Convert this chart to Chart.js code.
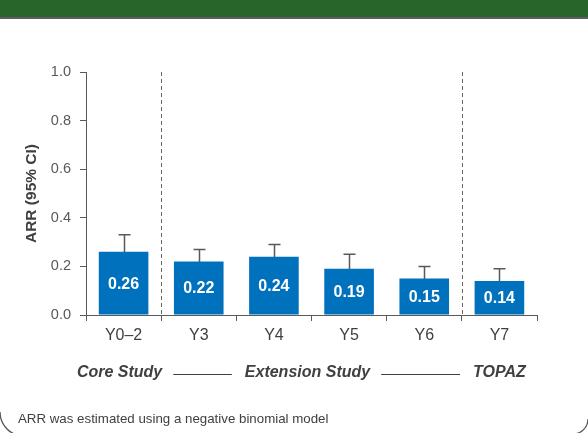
<!DOCTYPE html>
<html><head><meta charset="utf-8">
<script src="https://cdn.jsdelivr.net/npm/chart.js@4.4.1/dist/chart.umd.min.js"></script>
<style>
html,body{margin:0;padding:0;background:#fff;overflow:hidden}
#wrap{position:relative;width:588px;height:433px}
#banner{position:absolute;left:0;top:0;width:588px;height:17px;background:#27652a;border-bottom:2px solid #5e5e5e}
canvas{position:absolute;left:0;top:0}
</style></head>
<body><div id="wrap"><canvas id="c" width="588" height="433"></canvas><div id="banner"></div></div>
<script>
const categories = ['Y0\u20132', 'Y3', 'Y4', 'Y5', 'Y6', 'Y7'];
const arrValues = [0.26, 0.22, 0.24, 0.19, 0.15, 0.14];
const ciUpper = [0.33, 0.27, 0.29, 0.25, 0.20, 0.19];
const yTicks = [0.0, 0.2, 0.4, 0.6, 0.8, 1.0];
const yTitle = 'ARR (95% CI)';
const studyGroups = ['Core Study', 'Extension Study', 'TOPAZ'];
const groupFirst = [0, 1, 5];
const groupLast = [0, 4, 5];
const dividerAfter = [0, 4];
const footnote = 'ARR was estimated using a negative binomial model';

const FONT = "'Liberation Sans', Arial, Helvetica, sans-serif";
const GREY = '#595959';
const DARK = '#404040';

const extras = {
  id: 'extras',
  beforeDatasetsDraw(chart) {
    const ctx = chart.ctx, xs = chart.scales.x, ys = chart.scales.y, ca = chart.chartArea;
    ctx.save();
    ctx.strokeStyle = '#666';
    ctx.lineWidth = 1;
    ctx.setLineDash([4, 3]);
    dividerAfter.forEach(i => {
      const x = Math.round((xs.getPixelForValue(i) + xs.getPixelForValue(i + 1)) / 2) + 0.5;
      ctx.beginPath(); ctx.moveTo(x, ca.top); ctx.lineTo(x, ca.bottom); ctx.stroke();
    });
    ctx.setLineDash([]);
    const meta = chart.getDatasetMeta(0);
    ctx.strokeStyle = GREY;
    ctx.lineWidth = 1.5;
    meta.data.forEach((bar, i) => {
      const x = Math.round(bar.x) + 0.5;
      const yt = ys.getPixelForValue(ciUpper[i]);
      ctx.beginPath();
      ctx.moveTo(x, bar.y + 2); ctx.lineTo(x, yt);
      ctx.moveTo(x - 6, yt); ctx.lineTo(x + 6, yt);
      ctx.stroke();
    });
    ctx.restore();
  },
  afterDatasetsDraw(chart) {
    const ctx = chart.ctx, meta = chart.getDatasetMeta(0);
    ctx.save();
    ctx.fillStyle = '#fff';
    ctx.font = 'bold 16px ' + FONT;
    ctx.textAlign = 'center';
    ctx.textBaseline = 'middle';
    meta.data.forEach((bar, i) => {
      ctx.fillText(arrValues[i].toFixed(2), bar.x, (bar.y + bar.base) / 2 + 1);
    });
    ctx.restore();
  },
  afterDraw(chart) {
    const ctx = chart.ctx, xs = chart.scales.x, ca = chart.chartArea;
    ctx.save();
    const gy = ca.bottom + 58;
    ctx.font = 'italic bold 16px ' + FONT;
    ctx.fillStyle = DARK;
    ctx.textAlign = 'center';
    ctx.textBaseline = 'middle';
    const shift = [-4, -4, 0];
    const spans = studyGroups.map((g, k) => {
      const cx = (xs.getPixelForValue(groupFirst[k]) + xs.getPixelForValue(groupLast[k])) / 2 + shift[k];
      const w = ctx.measureText(g).width;
      ctx.fillText(g, cx, gy);
      return [cx - w / 2, cx + w / 2];
    });
    ctx.strokeStyle = DARK;
    ctx.lineWidth = 1;
    for (let k = 0; k < spans.length - 1; k++) {
      const a = spans[k][1] + 11, b = spans[k + 1][0] - 13;
      ctx.beginPath(); ctx.moveTo(a, gy + 1.5); ctx.lineTo(b, gy + 1.5); ctx.stroke();
    }
    ctx.font = '13.3px ' + FONT;
    ctx.textAlign = 'left';
    ctx.fillStyle = DARK;
    ctx.fillText(footnote, 18, 419);
    ctx.strokeStyle = '#555';
    ctx.lineWidth = 1.3;
    ctx.beginPath(); ctx.arc(24, 412, 24, Math.PI / 2, Math.PI); ctx.stroke();
    ctx.beginPath(); ctx.arc(573, 419, 15, 0, Math.PI / 2); ctx.stroke();
    ctx.restore();
  }
};

new Chart(document.getElementById('c'), {
  type: 'bar',
  data: {
    labels: categories,
    datasets: [{
      data: arrValues,
      backgroundColor: '#0071bd',
      borderWidth: 0,
      barPercentage: 0.66,
      categoryPercentage: 1.0
    }]
  },
  options: {
    responsive: false,
    animation: false,
    events: [],
    layout: { padding: { left: 0, right: 51, top: 72, bottom: 78 } },
    plugins: { legend: { display: false }, tooltip: { enabled: false } },
    scales: {
      x: {
        offset: true,
        grid: { display: true, offset: true, drawOnChartArea: false, tickLength: 6, color: GREY, lineWidth: 1 },
        border: { display: true, color: GREY, width: 1 },
        ticks: { color: DARK, font: { family: FONT, size: 16 }, padding: 5 },
        afterFit(s) { s.height = 40; }
      },
      y: {
        min: 0, max: 1,
        afterBuildTicks(s) { s.ticks = yTicks.map(v => ({ value: v })); },
        grid: { display: true, drawOnChartArea: false, tickLength: 6, color: GREY, lineWidth: 1 },
        border: { display: true, color: GREY, width: 1 },
        ticks: { color: GREY, font: { family: FONT, size: 14.5 }, padding: 9,
                 callback: v => Number(v).toFixed(1) },
        title: { display: true, text: yTitle, color: DARK,
                 font: { family: FONT, size: 15.5, weight: 'bold' }, padding: { top: 22, bottom: 0 } },
        afterFit(s) { s.width = 86; }
      }
    }
  },
  plugins: [extras]
});
</script>
</body></html>
